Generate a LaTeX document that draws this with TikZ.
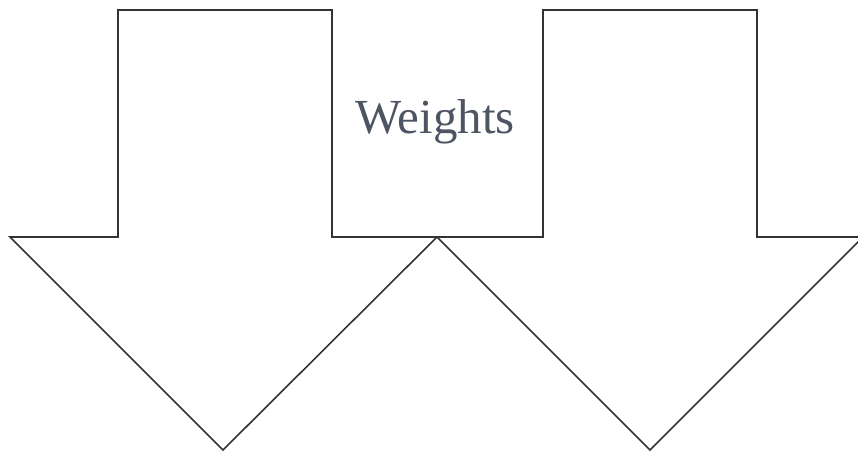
\documentclass[tikz,border=0pt]{standalone}
\usepackage{fontspec}
\setmainfont{Liberation Serif}
\definecolor{labelgray}{HTML}{4D5563}

\begin{document}
\begin{tikzpicture}[x=1pt, y=-1pt,
    arrowline/.style={draw=black!80, line width=1.6pt, line join=miter}]

    \useasboundingbox (0,0) rectangle (858,453);
    \clip (0,0) rectangle (858,453);

    % Left arrow
    \draw[arrowline] (118,10) -- (332,10) -- (332,237) -- (437,237)
        -- (223,450) -- (10,237) -- (118,237) -- cycle;

    % Right arrow, its head runs past the edge
    \draw[arrowline] (543,10) -- (757,10) -- (757,237) -- (863,237)
        -- (650,450) -- (437,237) -- (543,237) -- cycle;

    \node[text=labelgray, font=\fontsize{49}{53}\selectfont, anchor=base]
        (weights) at (435,133) {Weights};

\end{tikzpicture}
\end{document}
